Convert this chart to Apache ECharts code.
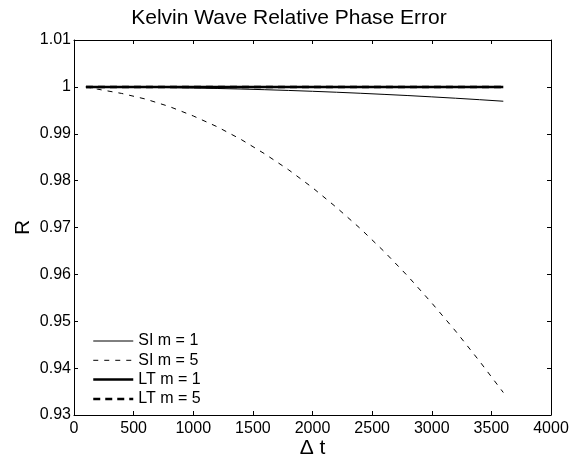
<!DOCTYPE html>
<html>
<head>
<meta charset="utf-8">
<script src="https://cdn.jsdelivr.net/npm/echarts@6/dist/echarts.min.js"></script>
<style>
html,body{margin:0;padding:0;background:#fff;}
#chart{width:578px;height:458px;}
</style>
</head>
<body>
<div id="chart"></div>
<script>
// Data
var dt = [100, 200, 400, 600, 800, 1000, 1200, 1400, 1600, 1800, 2000, 2200, 2400, 2600, 2800, 3000, 3200, 3400, 3600];
var siM1 = [1.0, 1.0, 0.99996, 0.99992, 0.99985, 0.99976, 0.99966, 0.99954, 0.9994, 0.99924, 0.99906, 0.99886, 0.99864, 0.9984, 0.99815, 0.99787, 0.99758, 0.99727, 0.99694];
var siM5 = [1.0, 0.9995, 0.9986, 0.9974, 0.9958, 0.9938, 0.9915, 0.9888, 0.9857, 0.9823, 0.9785, 0.9743, 0.9698, 0.9649, 0.9596, 0.9539, 0.9479, 0.9415, 0.9348];
var ltM1 = [1, 1, 1, 1, 1, 1, 1, 1, 1, 1, 1, 1, 1, 1, 1, 1, 1, 1, 1];
var ltM5 = [1, 1, 1, 1, 1, 1, 1, 1, 1, 1, 1, 1, 1, 1, 1, 1, 1, 1, 1];
var seriesNames = ['SI m = 1', 'SI m = 5', 'LT m = 1', 'LT m = 5'];
var xTicks = {min: 0, max: 4000, interval: 500};
var yTicks = {min: 0.93, max: 1.01, interval: 0.01};

function pairs(xs, ys) { return xs.map(function (x, i) { return [x, ys[i]]; }); }

var FONT = 'Liberation Sans, Arial, Helvetica, sans-serif';
var chart = echarts.init(document.getElementById('chart'), null, {renderer: 'canvas'});

var styles = [
  {width: 1, type: 'solid'},
  {width: 1, type: [5, 6]},
  {width: 2.5, type: 'solid'},
  {width: 2.5, type: [7, 5]}
];

function axisBase(extra) {
  var o = {
    type: 'value',
    axisLine: {show: true, onZero: false, lineStyle: {color: '#000', width: 1}},
    axisTick: {show: true, inside: true, length: 4, lineStyle: {color: '#000', width: 1}},
    splitLine: {show: false},
    axisLabel: {color: '#000', fontFamily: FONT, fontSize: 16}
  };
  for (var k in extra) o[k] = extra[k];
  return o;
}

var option = {
  backgroundColor: '#fff',
  animation: false,
  title: {
    text: 'Kelvin Wave Relative Phase Error',
    left: 'center', top: 8, padding: 0,
    textStyle: {color: '#000', fontFamily: FONT, fontSize: 21, fontWeight: 'normal'}
  },
  grid: {left: 74, right: 27, top: 40, bottom: 43, containLabel: false, outerBoundsMode: 'none'},
  legend: {
    orient: 'vertical', left: 92, top: 333, padding: 0,
    itemWidth: 40, itemHeight: 14, itemGap: 3.3,
    itemStyle: {opacity: 0},
    textStyle: {color: '#000', fontFamily: FONT, fontSize: 16},
    data: seriesNames.map(function (n, i) {
      return {name: n, lineStyle: {color: '#000', width: styles[i].width, type: styles[i].type}};
    })
  },
  xAxis: [
    axisBase({min: xTicks.min, max: xTicks.max, interval: xTicks.interval, position: 'bottom',
      name: 'Δ t', nameLocation: 'middle', nameGap: 23, nameMoveOverlap: false,
      nameTextStyle: {color: '#000', fontFamily: FONT, fontSize: 21},
      axisLabel: {color: '#000', fontFamily: FONT, fontSize: 16, margin: 6,
        formatter: function (v) { return String(v); }}}),
    axisBase({min: xTicks.min, max: xTicks.max, interval: xTicks.interval, position: 'top',
      axisLabel: {show: false}})
  ],
  yAxis: [
    axisBase({min: yTicks.min, max: yTicks.max, interval: yTicks.interval, position: 'left',
      name: 'R', nameLocation: 'middle', nameGap: 40, nameMoveOverlap: false,
      nameTextStyle: {color: '#000', fontFamily: FONT, fontSize: 21},
      axisLabel: {color: '#000', fontFamily: FONT, fontSize: 16, margin: 3,
        formatter: function (v) { return String(Math.round(v * 100) / 100); }}}),
    axisBase({min: yTicks.min, max: yTicks.max, interval: yTicks.interval, position: 'right',
      axisLabel: {show: false}})
  ],
  series: seriesNames.map(function (n, i) {
    var ys = [siM1, siM5, ltM1, ltM5][i];
    return {name: n, type: 'line', data: pairs(dt, ys), symbol: 'none', smooth: false,
      lineStyle: {color: '#000', width: styles[i].width, type: styles[i].type},
      itemStyle: {color: '#000'}};
  })
};
chart.setOption(option);
</script>
</body>
</html>
